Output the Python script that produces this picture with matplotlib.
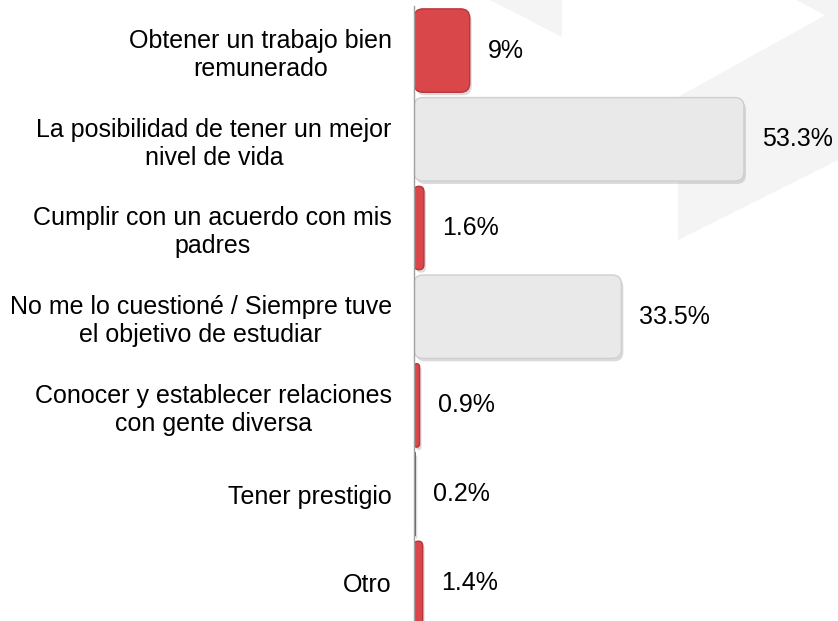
import numpy as np
import matplotlib.pyplot as plt
from matplotlib.patches import FancyBboxPatch, Polygon

plt.rcParams['font.family'] = ['Liberation Sans', 'DejaVu Sans']

# Datos
categorias = [
    "Obtener un trabajo bien\nremunerado",
    "La posibilidad de tener un mejor\nnivel de vida",
    "Cumplir con un acuerdo con mis\npadres",
    "No me lo cuestioné / Siempre tuve\nel objetivo de estudiar",
    "Conocer y establecer relaciones\ncon gente diversa",
    "Tener prestigio",
    "Otro",
]
valores = [9, 53.3, 1.6, 33.5, 0.9, 0.2, 1.4]
etiquetas = ["9%", "53.3%", "1.6%", "33.5%", "0.9%", "0.2%", "1.4%"]

rojo = '#d9474b'
gris = '#e9e9e9'
colores = [rojo if v < 20 else gris for v in valores]
bordes = ['#b8353a' if v < 20 else '#cfcfcf' for v in valores]

W, H = 838, 621
fig = plt.figure(figsize=(W / 100, H / 100), dpi=100)
fig.patch.set_facecolor('#ffffff')

# marca de agua de fondo (formas grises tenues)
fondo = [
    [(490, 0), (562, 0), (562, 37)],
    [(678, 97), (838, 8), (838, 160), (678, 240)],
    [(796, 0), (838, 0), (838, 22)],
]
for pts in fondo:
    fig.patches.append(Polygon([(x / W, 1 - y / H) for x, y in pts], closed=True,
                               transform=fig.transFigure, facecolor='#f4f4f4',
                               edgecolor='none', zorder=-5))

x0_ax = 414 / W
ax = fig.add_axes([x0_ax, -0.01, 1 - x0_ax, 1.0])
ax.set_facecolor('none')
ax.set_zorder(2)

xmax = (W - 414) / 6.19
ax.set_xlim(0, xmax)
ax.set_ylim(len(valores) - 0.5, -0.5)

y = np.arange(len(valores))
bars = ax.barh(y, valores, height=0.94, color=colores)

# escala de pixeles por unidad para redondear esquinas
px_x = (W - 414) / xmax
px_y = H * 1.0 / len(valores)
aspect = px_x / px_y

for b, c, e in zip(bars, colores, bordes):
    bx, by, bw, bh = b.get_x(), b.get_y(), b.get_width(), b.get_height()
    b.set_visible(False)
    r = min(9 / px_x, bw / 2, (bh / aspect) / 2)
    style = f"round,pad=0,rounding_size={r}"
    sombra = FancyBboxPatch((bx + 2 / px_x, by + 3 / px_y), bw, bh, boxstyle=style,
                            mutation_aspect=aspect, facecolor='#9a9a9a', alpha=0.35,
                            edgecolor='none', zorder=1)
    ax.add_patch(sombra)
    caja = FancyBboxPatch((bx, by), bw, bh, boxstyle=style, mutation_aspect=aspect,
                          facecolor=c, edgecolor=e, linewidth=1.0, zorder=2)
    ax.add_patch(caja)

ax.set_yticks(y)
ax.set_yticklabels(categorias, fontsize=18, multialignment='center', linespacing=1.2)
ax.tick_params(axis='y', length=0, pad=16)
ax.set_xticks([])

for s in ['top', 'right', 'bottom']:
    ax.spines[s].set_visible(False)
ax.spines['left'].set_color('#a0a0a0')
ax.spines['left'].set_linewidth(1.0)
ax.spines['left'].set_zorder(3)

for b, lab in zip(bars, etiquetas):
    ax.annotate(lab, (b.get_width(), b.get_y() + b.get_height() / 2),
                xytext=(18, 0), textcoords='offset pixels',
                va='center', ha='left', fontsize=18, color='black')

fig.savefig('out.png', dpi=100, facecolor=fig.get_facecolor())
